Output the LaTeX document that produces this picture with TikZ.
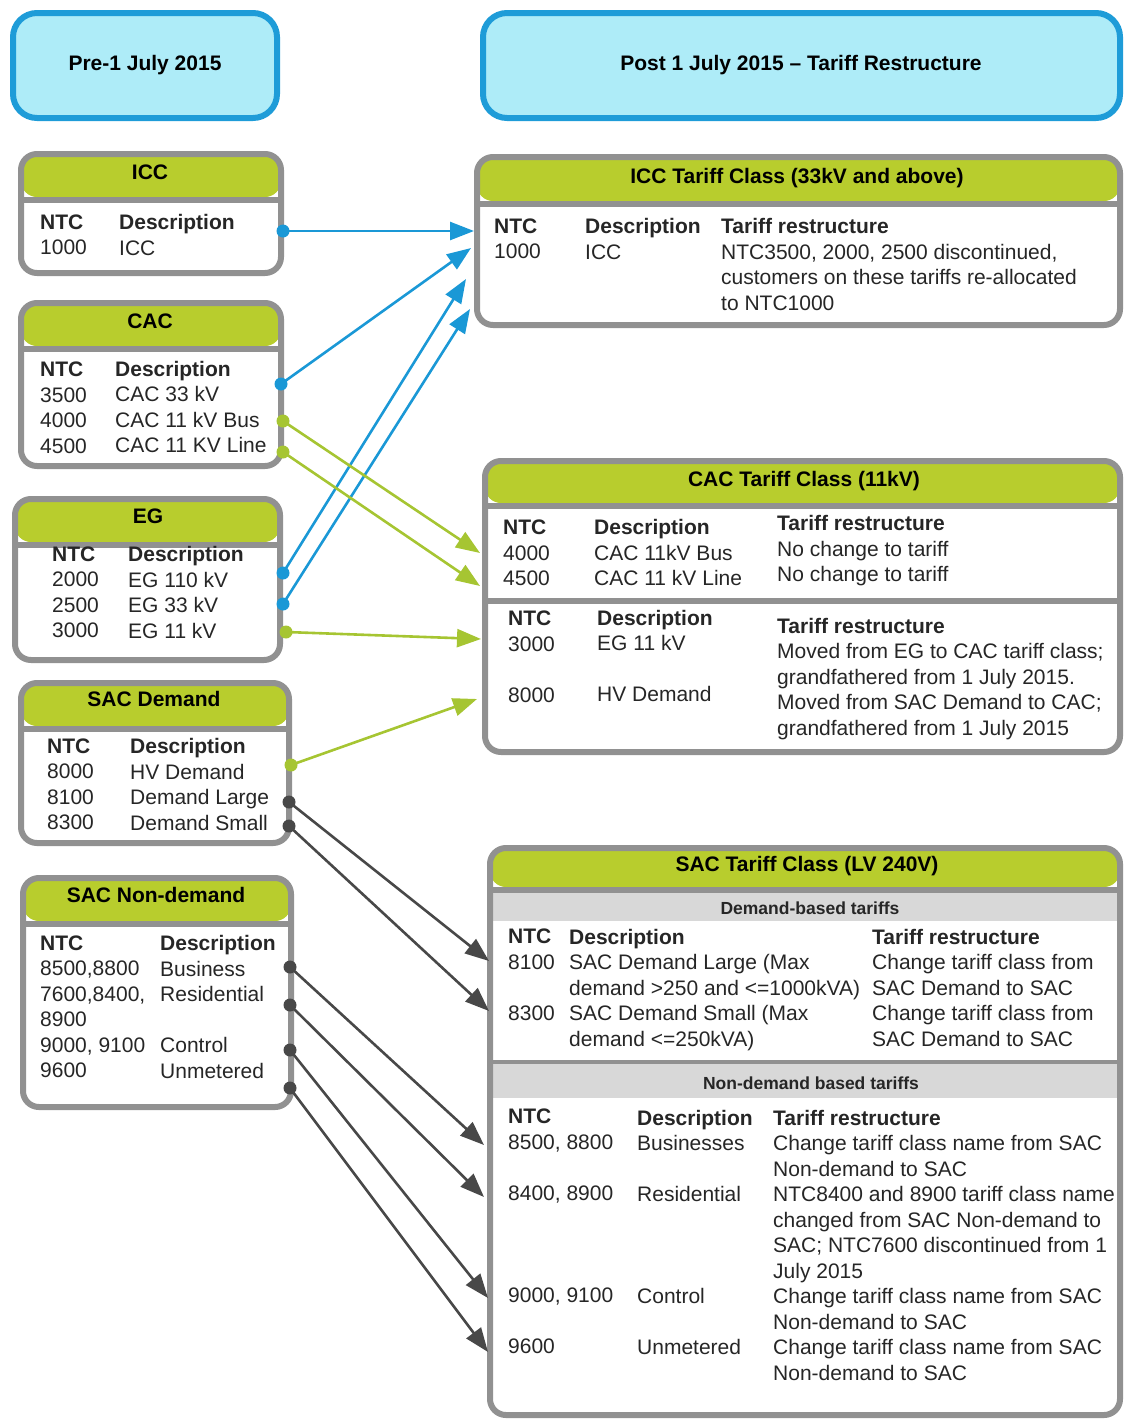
\documentclass[tikz,border=0pt]{standalone}
\usepackage{fontspec}
\setmainfont{Liberation Sans}
\usetikzlibrary{arrows.meta}

\begin{document}
\begin{tikzpicture}[x=1pt,y=-1pt,
    tbox/.style={fill=white, rounded corners=16pt, inner sep=0pt, outer sep=0pt,
      path picture={\fill[hdrgreen] (path picture bounding box.north west) rectangle ([yshift=-#1]path picture bounding box.north east);
        \draw[boxgray, line width=6pt] ([yshift=-#1-3pt]path picture bounding box.north west) -- ([yshift=-#1-3pt]path picture bounding box.north east);}},
    tbox/.default=43pt,
    tframe/.style={draw=boxgray, line width=6pt, rounded corners=16pt},
    hbox/.style={draw=hdrblue, line width=6pt, fill=hdrcyan, rounded corners=24pt, inner sep=0pt},
    cell/.style={anchor=north west, inner sep=0pt, align=left, text=txtgray, font=\fontsize{21}{25.5}\selectfont},
    ttl/.style={anchor=base, inner sep=0pt, text=black, font=\fontsize{21}{25.5}\selectfont\bfseries},
    subttl/.style={anchor=base, inner sep=0pt, text=black!85, font=\fontsize{17.5}{20}\selectfont\bfseries},
    link/.style={draw=#1, line width=2.6pt, -{Triangle[length=24pt,width=18pt]}}]

    % Changing colors
    \definecolor{hdrblue}{RGB}{30,156,216}%
    \definecolor{hdrcyan}{RGB}{174,236,248}%
    \definecolor{hdrgreen}{RGB}{184,205,45}%
    \definecolor{boxgray}{RGB}{145,145,145}%
    \definecolor{bandgray}{RGB}{216,216,216}%
    \definecolor{txtgray}{RGB}{38,38,38}%
    \definecolor{arrblue}{RGB}{26,152,214}%
    \definecolor{arrgreen}{RGB}{166,197,50}%
    \definecolor{arrdark}{RGB}{72,72,72}%

    \useasboundingbox (0,0) rectangle (1124,1419);%

    % Drawing period headers
    \node (pre) [hbox, minimum width=264pt, minimum height=105pt] at (145,65.5) {};%
    \node (preText) [ttl] at (145,70.5) {Pre-1 July 2015};%
    \node (post) [hbox, minimum width=637pt, minimum height=105pt] at (801.5,65.5) {};%
    \node (postText) [ttl] at (801,70.5) {Post 1 July 2015 -- Tariff Restructure};%

    % Drawing box ICC
    \node (lIcc) [tbox, minimum width=260pt, minimum height=119pt] at (151,213.5) {};%
    \node (lIccTitle) [ttl] at (150,179.5) {ICC};%
    \node (lIccNtc) [cell] at (40,214.5) {\textbf{NTC}\\1000};%
    \node (lIccDesc) [cell] at (119,214.5) {\textbf{Description}\\ICC};%

    % Drawing box CAC
    \node (lCac) [tbox, minimum width=260pt, minimum height=163pt] at (151,384.5) {};%
    \node (lCacTitle) [ttl] at (150,328.5) {CAC};%
    \node (lCacNtc) [cell] at (40,362) {\textbf{NTC}\\3500\\4000\\4500};%
    \node (lCacDesc) [cell] at (115,361) {\textbf{Description}\\CAC 33 kV\\CAC 11 kV Bus\\CAC 11 KV Line};%

    % Drawing box EG
    \node (lEg) [tbox, minimum width=265pt, minimum height=161pt] at (147.5,579.5) {};%
    \node (lEgTitle) [ttl] at (148,523.5) {EG};%
    \node (lEgNtc) [cell] at (52,546.5) {\textbf{NTC}\\2000\\2500\\3000};%
    \node (lEgDesc) [cell] at (128,546.5) {\textbf{Description}\\EG 110 kV\\EG 33 kV\\EG 11 kV};%

    % Drawing box SAC Demand
    \node (lSacd) [tbox, minimum width=268pt, minimum height=160pt] at (155,763) {};%
    \node (lSacdTitle) [ttl] at (154,706.5) {SAC Demand};%
    \node (lSacdNtc) [cell] at (47,738.5) {\textbf{NTC}\\8000\\8100\\8300};%
    \node (lSacdDesc) [cell] at (130,738.5) {\textbf{Description}\\HV Demand\\Demand Large\\Demand Small};%

    % Drawing box SAC Non-demand
    \node (lSacn) [tbox, minimum width=268pt, minimum height=229pt] at (157,992.5) {};%
    \node (lSacnTitle) [ttl] at (156,902.5) {SAC Non-demand};%
    \node (lSacnNtc) [cell] at (40,935.5) {\textbf{NTC}\\8500,8800\\7600,8400,\\8900\\9000, 9100\\9600};%
    \node (lSacnDesc) [cell] at (160,935.5) {\textbf{Description}\\Business\\Residential\\~\\Control\\Unmetered};%

    % Drawing box ICC Tariff Class
    \node (rIcc) [tbox=44pt, minimum width=643pt, minimum height=168pt] at (798.5,241) {};%
    \node (rIccTitle) [ttl] at (797,183.5) {ICC Tariff Class (33kV and above)};%
    \node (rIccNtc) [cell] at (494,218.5) {\textbf{NTC}\\1000};%
    \node (rIccDesc) [cell] at (585,218.5) {\textbf{Description}\\ICC};%
    \node (rIccTar) [cell] at (721,218.5) {\textbf{Tariff restructure}\\NTC3500, 2000, 2500 discontinued,\\customers on these tariffs re-allocated\\to NTC1000};%

    % Drawing box CAC Tariff Class
    \node (rCac) [tbox=42pt, minimum width=635pt, minimum height=291pt] at (802.5,606.5) {};%
    \node (rCacTitle) [ttl] at (804,486.5) {CAC Tariff Class (11kV)};%
    \node (rCacNtcA) [cell] at (503,520) {\textbf{NTC}\\4000\\4500};%
    \node (rCacDescA) [cell] at (594,519.5) {\textbf{Description}\\CAC 11kV Bus\\CAC 11 kV Line};%
    \node (rCacTarA) [cell] at (777,515.5) {\textbf{Tariff restructure}\\No change to tariff\\No change to tariff};%
    \draw [boxgray, line width=6pt] (488,601) -- (1117,601);%
    \node (rCacNtcB) [cell] at (508,611) {\textbf{NTC}\\3000\\~\\8000};%
    \node (rCacDescB) [cell] at (597,610) {\textbf{Description}\\EG 11 kV\\~\\HV Demand};%
    \node (rCacTarB) [cell] at (777,618) {\textbf{Tariff restructure}\\Moved from EG to CAC tariff class;\\grandfathered from 1 July 2015.\\Moved from SAC Demand to CAC;\\grandfathered from 1 July 2015};%

    % Drawing box SAC Tariff Class
    \node (rSac) [tbox=39pt, minimum width=630pt, minimum height=567pt] at (805,1131.5) {};%
    \node (rSacTitle) [ttl] at (807,871.5) {SAC Tariff Class (LV 240V)};%
    \fill [bandgray] (493,893) rectangle (1117,921);%
    \node (rSacBandA) [subttl] at (810,914) {Demand-based tariffs};%
    \node (rSacNtcA) [cell] at (508,929) {\textbf{NTC}\\8100\\~\\8300};%
    \node (rSacDescA) [cell] at (569,929) {\textbf{Description}\\SAC Demand Large (Max\\demand >250 and <=1000kVA)\\SAC Demand Small (Max\\demand <=250kVA)};%
    \node (rSacTarA) [cell] at (872,929) {\textbf{Tariff restructure}\\Change tariff class from\\SAC Demand to SAC\\Change tariff class from\\SAC Demand to SAC};%
    \draw [boxgray, line width=4pt] (493,1062) -- (1117,1062);%
    \fill [bandgray] (493,1064) rectangle (1117,1098);%
    \node (rSacBandB) [subttl] at (811,1089) {Non-demand based tariffs};%
    \node (rSacNtcB) [cell] at (508,1109) {\textbf{NTC}\\8500, 8800\\~\\8400, 8900\\~\\~\\~\\9000, 9100\\~\\9600};%
    \node (rSacDescB) [cell] at (637,1110) {\textbf{Description}\\Businesses\\~\\Residential\\~\\~\\~\\Control\\~\\Unmetered};%
    \node (rSacTarB) [cell] at (773,1110) {\textbf{Tariff restructure}\\Change tariff class name from SAC\\Non-demand to SAC\\NTC8400 and 8900 tariff class name\\changed from SAC Non-demand to\\SAC; NTC7600 discontinued from 1\\July 2015\\Change tariff class name from SAC\\Non-demand to SAC\\Change tariff class name from SAC\\Non-demand to SAC};%

    % Drawing box frames
    \foreach \b in {lIcc,lCac,lEg,lSacd,lSacn,rIcc,rCac,rSac}
      \draw [tframe] (\b.north west) rectangle (\b.south east);%

    % Marking link ends
    \coordinate (iccOut) at (283,231);%
    \coordinate (iccIn) at (474,231);%
    \coordinate (cac3500Out) at (281,384);%
    \coordinate (cac3500In) at (471,248);%
    \coordinate (eg2000Out) at (283,573);%
    \coordinate (eg2000In) at (466,279);%
    \coordinate (eg2500Out) at (283,604);%
    \coordinate (eg2500In) at (470,309);%
    \coordinate (cac4000Out) at (283,421);%
    \coordinate (cac4000In) at (480,553);%
    \coordinate (cac4500Out) at (283,452);%
    \coordinate (cac4500In) at (480,586);%
    \coordinate (eg3000Out) at (286,632);%
    \coordinate (eg3000In) at (481,639);%
    \coordinate (hvOut) at (291,765);%
    \coordinate (hvIn) at (477,699);%
    \coordinate (d8100Out) at (289,802);%
    \coordinate (d8100In) at (489,961);%
    \coordinate (d8300Out) at (289,826);%
    \coordinate (d8300In) at (489,1011);%
    \coordinate (busOut) at (290,967);%
    \coordinate (busIn) at (484,1145);%
    \coordinate (resOut) at (290,1005);%
    \coordinate (resIn) at (484,1197);%
    \coordinate (ctlOut) at (290,1050);%
    \coordinate (ctlIn) at (488,1298);%
    \coordinate (unmOut) at (290,1088);%
    \coordinate (unmIn) at (488,1352);%

    % Drawing links to ICC
    \draw [link=arrblue] (iccOut) -- (iccIn);%
    \draw [link=arrblue] (cac3500Out) -- (cac3500In);%
    \draw [link=arrblue] (eg2000Out) -- (eg2000In);%
    \draw [link=arrblue] (eg2500Out) -- (eg2500In);%
    \foreach \p in {iccOut,cac3500Out,eg2000Out,eg2500Out}
      \fill [arrblue] (\p) circle (6.5);%

    % Drawing links to CAC
    \draw [link=arrgreen] (cac4000Out) -- (cac4000In);%
    \draw [link=arrgreen] (cac4500Out) -- (cac4500In);%
    \draw [link=arrgreen] (eg3000Out) -- (eg3000In);%
    \draw [link=arrgreen] (hvOut) -- (hvIn);%
    \foreach \p in {cac4000Out,cac4500Out,eg3000Out,hvOut}
      \fill [arrgreen] (\p) circle (6.5);%

    % Drawing links to SAC
    \draw [link=arrdark] (d8100Out) -- (d8100In);%
    \draw [link=arrdark] (d8300Out) -- (d8300In);%
    \draw [link=arrdark] (busOut) -- (busIn);%
    \draw [link=arrdark] (resOut) -- (resIn);%
    \draw [link=arrdark] (ctlOut) -- (ctlIn);%
    \draw [link=arrdark] (unmOut) -- (unmIn);%
    \foreach \p in {d8100Out,d8300Out,busOut,resOut,ctlOut,unmOut}
      \fill [arrdark] (\p) circle (6.5);%
\end{tikzpicture}
\end{document}
